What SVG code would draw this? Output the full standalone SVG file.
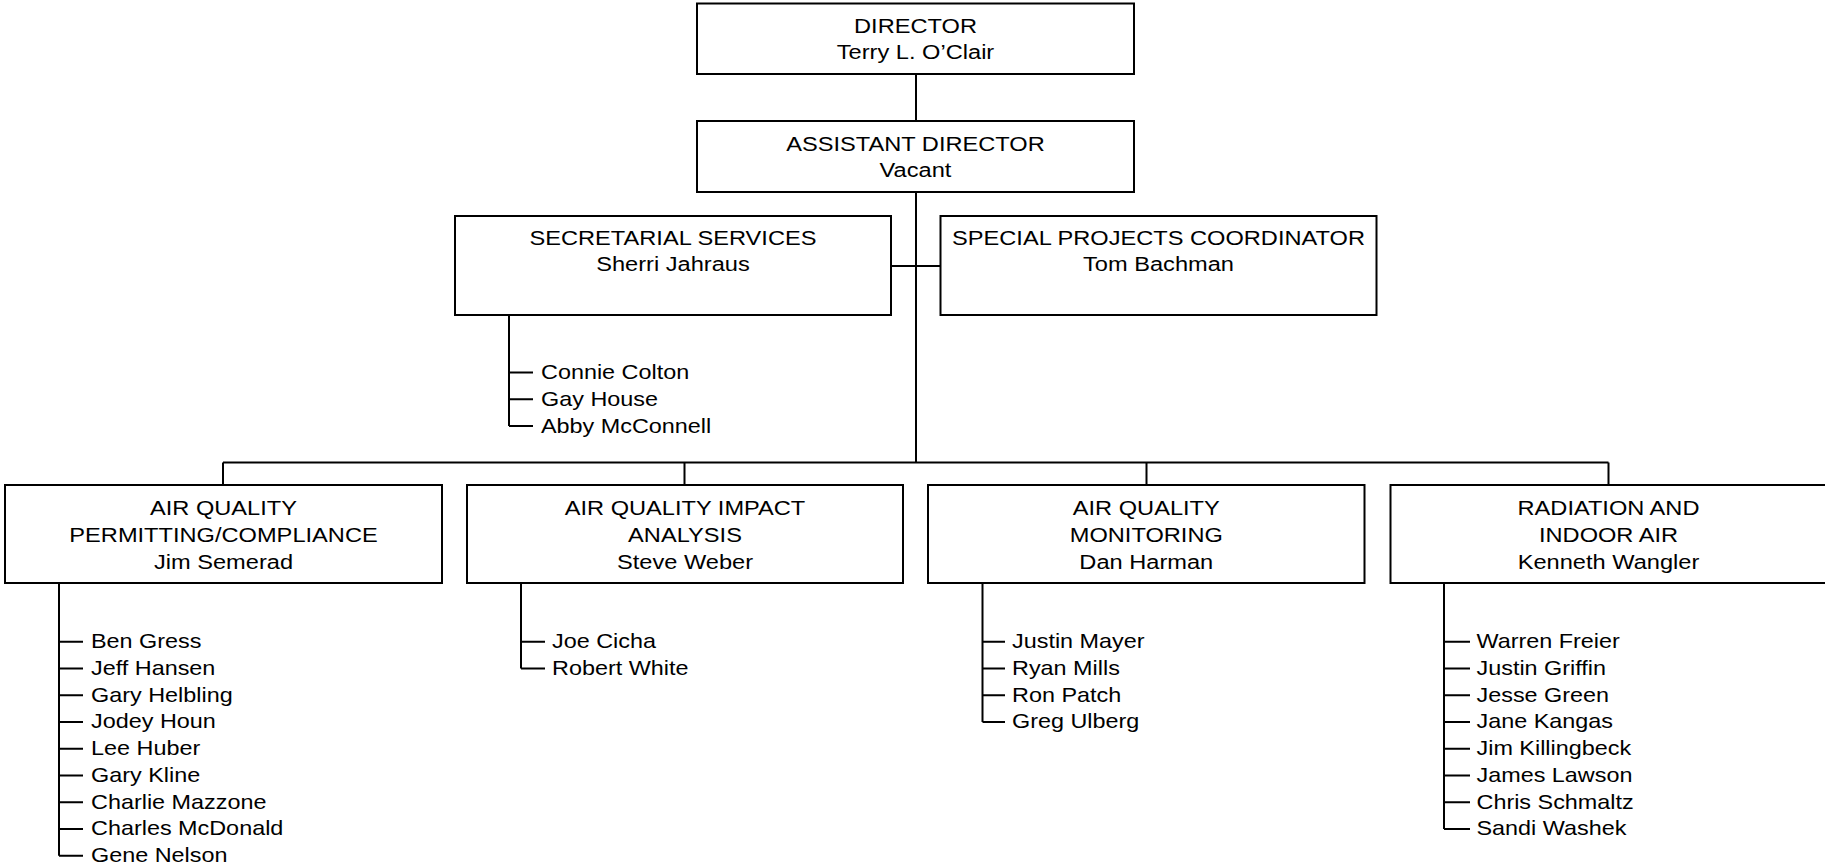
<svg xmlns="http://www.w3.org/2000/svg" width="1825" height="867" viewBox="0 0 1825 867">
<style>
.box{fill:#fff;stroke:#000;stroke-width:2}
.ln{fill:none;stroke:#000;stroke-width:2}
text{font-family:"Liberation Sans",Arial,sans-serif;fill:#000}
.c{font-size:21px;text-anchor:middle}
.n{font-size:20px}
</style>
<rect width="1825" height="867" fill="#fff"/>
<g id="connectors" class="ln">
<path d="M916 74V462.5M223 462.5H1608.5M223 462.5V485M684.5 462.5V485M1146.5 462.5V485M1608.5 462.5V485"/>
<path d="M891 266H940.5"/>
<path d="M509 315V426M509 372.5H533M509 399.3H533M509 426H533"/>
<path d="M59 583V855.7M59 641.7H83M59 668.45H83M59 695.2H83M59 721.95H83M59 748.7H83M59 775.45H83M59 802.2H83M59 828.95H83M59 855.7H83"/>
<path d="M521 583V668.45M521 641.7H545M521 668.45H545"/>
<path d="M982.5 583V721.95M982.5 641.7H1005M982.5 668.45H1005M982.5 695.2H1005M982.5 721.95H1005"/>
<path d="M1444 583V828.95M1444 641.7H1470M1444 668.45H1470M1444 695.2H1470M1444 721.95H1470M1444 748.7H1470M1444 775.45H1470M1444 802.2H1470M1444 828.95H1470"/>
</g>
<g id="director">
<rect class="box" x="697" y="3.5" width="437" height="70.5"/>
<text class="c" transform="translate(915.5,33.3) scale(1.125,1)">DIRECTOR</text>
<text class="c" transform="translate(915.5,59.3) scale(1.125,1)">Terry L. O’Clair</text>
</g>
<g id="assistant">
<rect class="box" x="697" y="121" width="437" height="71"/>
<text class="c" transform="translate(915.5,151) scale(1.125,1)">ASSISTANT DIRECTOR</text>
<text class="c" transform="translate(915.5,177) scale(1.125,1)">Vacant</text>
</g>
<g id="secretarial">
<rect class="box" x="455" y="216" width="436" height="99"/>
<text class="c" transform="translate(673,245.3) scale(1.125,1)">SECRETARIAL SERVICES</text>
<text class="c" transform="translate(673,271.3) scale(1.125,1)">Sherri Jahraus</text>
<text class="n" transform="translate(541,379) scale(1.17,1)">Connie Colton</text>
<text class="n" transform="translate(541,405.8) scale(1.17,1)">Gay House</text>
<text class="n" transform="translate(541,432.5) scale(1.17,1)">Abby McConnell</text>
</g>
<g id="special">
<rect class="box" x="940.5" y="216" width="436" height="99"/>
<text class="c" transform="translate(1158.5,245.3) scale(1.125,1)">SPECIAL PROJECTS COORDINATOR</text>
<text class="c" transform="translate(1158.5,271.3) scale(1.125,1)">Tom Bachman</text>
</g>
<g id="permitting">
<rect class="box" x="5" y="485" width="437" height="98"/>
<text class="c" transform="translate(223.5,514.5) scale(1.125,1)">AIR QUALITY</text>
<text class="c" transform="translate(223.5,541.7) scale(1.125,1)">PERMITTING/COMPLIANCE</text>
<text class="c" transform="translate(223.5,568.7) scale(1.125,1)">Jim Semerad</text>
<text class="n" transform="translate(91,648) scale(1.17,1)">Ben Gress</text>
<text class="n" transform="translate(91,674.75) scale(1.17,1)">Jeff Hansen</text>
<text class="n" transform="translate(91,701.5) scale(1.17,1)">Gary Helbling</text>
<text class="n" transform="translate(91,728.25) scale(1.17,1)">Jodey Houn</text>
<text class="n" transform="translate(91,755) scale(1.17,1)">Lee Huber</text>
<text class="n" transform="translate(91,781.75) scale(1.17,1)">Gary Kline</text>
<text class="n" transform="translate(91,808.5) scale(1.17,1)">Charlie Mazzone</text>
<text class="n" transform="translate(91,835.25) scale(1.17,1)">Charles McDonald</text>
<text class="n" transform="translate(91,862) scale(1.17,1)">Gene Nelson</text>
</g>
<g id="impact">
<rect class="box" x="467" y="485" width="436" height="98"/>
<text class="c" transform="translate(685,514.5) scale(1.125,1)">AIR QUALITY IMPACT</text>
<text class="c" transform="translate(685,541.7) scale(1.125,1)">ANALYSIS</text>
<text class="c" transform="translate(685,568.7) scale(1.125,1)">Steve Weber</text>
<text class="n" transform="translate(552,648) scale(1.17,1)">Joe Cicha</text>
<text class="n" transform="translate(552,674.75) scale(1.17,1)">Robert White</text>
</g>
<g id="monitoring">
<rect class="box" x="928" y="485" width="436.5" height="98"/>
<text class="c" transform="translate(1146.3,514.5) scale(1.125,1)">AIR QUALITY</text>
<text class="c" transform="translate(1146.3,541.7) scale(1.125,1)">MONITORING</text>
<text class="c" transform="translate(1146.3,568.7) scale(1.125,1)">Dan Harman</text>
<text class="n" transform="translate(1012,648) scale(1.17,1)">Justin Mayer</text>
<text class="n" transform="translate(1012,674.75) scale(1.17,1)">Ryan Mills</text>
<text class="n" transform="translate(1012,701.5) scale(1.17,1)">Ron Patch</text>
<text class="n" transform="translate(1012,728.25) scale(1.17,1)">Greg Ulberg</text>
</g>
<g id="radiation">
<rect class="box" x="1390.5" y="485" width="437" height="98"/>
<text class="c" transform="translate(1608.5,514.5) scale(1.125,1)">RADIATION AND</text>
<text class="c" transform="translate(1608.5,541.7) scale(1.125,1)">INDOOR AIR</text>
<text class="c" transform="translate(1608.5,568.7) scale(1.125,1)">Kenneth Wangler</text>
<text class="n" transform="translate(1476.5,648) scale(1.17,1)">Warren Freier</text>
<text class="n" transform="translate(1476.5,674.75) scale(1.17,1)">Justin Griffin</text>
<text class="n" transform="translate(1476.5,701.5) scale(1.17,1)">Jesse Green</text>
<text class="n" transform="translate(1476.5,728.25) scale(1.17,1)">Jane Kangas</text>
<text class="n" transform="translate(1476.5,755) scale(1.17,1)">Jim Killingbeck</text>
<text class="n" transform="translate(1476.5,781.75) scale(1.17,1)">James Lawson</text>
<text class="n" transform="translate(1476.5,808.5) scale(1.17,1)">Chris Schmaltz</text>
<text class="n" transform="translate(1476.5,835.25) scale(1.17,1)">Sandi Washek</text>
</g>
</svg>
